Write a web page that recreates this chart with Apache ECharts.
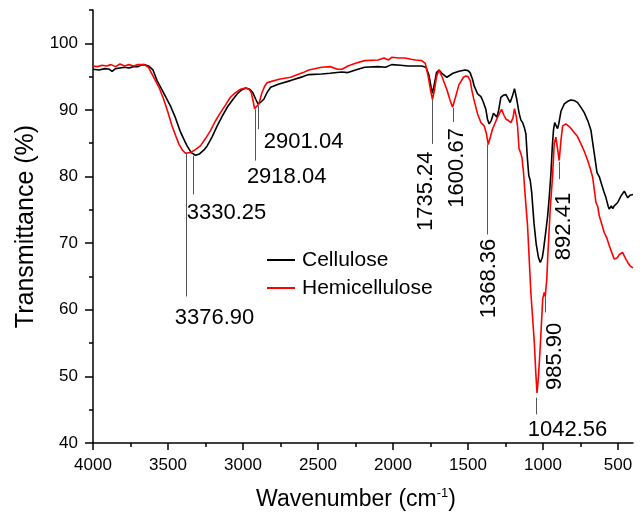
<!DOCTYPE html>
<html>
<head>
<meta charset="utf-8">
<script src="https://cdn.jsdelivr.net/npm/echarts@6/dist/echarts.min.js"></script>
<style>
html, body { margin: 0; padding: 0; background: #fff; }
#chart { width: 642px; height: 515px; }
</style>
</head>
<body>
<div id="chart"></div>
<script>
// FTIR spectra
var celluloseWn = [4000, 3960, 3920, 3890, 3873, 3850, 3820, 3790, 3760, 3730, 3700, 3680, 3660, 3630, 3600, 3573, 3530, 3484, 3450, 3417,
    3390, 3373, 3345, 3317, 3290, 3260, 3239, 3205, 3172, 3140, 3105, 3070, 3039, 3010, 2980, 2955, 2935, 2915, 2900, 2885,
    2861, 2840, 2816, 2760, 2683, 2600, 2561, 2476, 2420, 2342, 2300, 2250, 2189, 2100, 2050, 2009, 1950, 1900, 1850, 1809,
    1780, 1760, 1745, 1737, 1725, 1710, 1693, 1670, 1641, 1600, 1560, 1519, 1500, 1486, 1470, 1459, 1436, 1425, 1414, 1400,
    1381, 1370, 1359, 1345, 1330, 1318, 1307, 1295, 1281, 1265, 1247, 1235, 1219, 1205, 1190, 1175, 1160, 1148, 1136, 1125,
    1114, 1105, 1095, 1085, 1075, 1060, 1045, 1030, 1018, 1005, 996, 980, 969, 958, 947, 938, 930, 922, 912, 903,
    895, 880, 858, 835, 814, 790, 769, 745, 725, 700, 680, 665, 655, 640, 625, 613, 595, 580, 565, 558,
    545, 535, 525, 502, 480, 458, 445, 435, 420, 400];
var celluloseT = [96.1, 96.0, 96.2, 96.1, 95.8, 96.2, 96.3, 96.4, 96.3, 96.5, 96.5, 96.7, 96.8, 96.6, 96.0, 94.4, 92.6, 90.6, 88.8, 86.7,
    85.4, 84.6, 83.6, 83.2, 83.4, 84.0, 84.6, 86.0, 87.6, 89.0, 90.4, 91.5, 92.4, 93.0, 93.3, 93.1, 92.6, 91.6, 90.9, 91.1,
    91.6, 92.6, 93.4, 93.9, 94.4, 95.0, 95.3, 95.4, 95.5, 95.7, 95.6, 96.0, 96.4, 96.5, 96.4, 96.8, 96.7, 96.6, 96.6, 96.6,
    96.4, 95.2, 93.3, 92.5, 93.8, 95.6, 96.0, 95.4, 94.9, 95.5, 95.8, 96.0, 95.9, 95.6, 94.6, 93.6, 92.4, 92.6, 92.0, 91.3,
    90.1, 88.6, 87.9, 88.4, 89.5, 89.3, 88.9, 90.0, 91.9, 92.2, 92.3, 91.8, 91.1, 92.0, 93.2, 91.6, 89.6, 88.5, 88.1, 87.4,
    86.4, 83.0, 80.2, 79.4, 77.5, 73.0, 69.8, 67.8, 67.1, 67.8, 69.1, 72.0, 74.1, 77.0, 80.5, 84.5, 87.0, 88.1, 87.6, 87.2,
    87.9, 89.8, 90.9, 91.3, 91.5, 91.4, 91.1, 90.3, 89.6, 88.3, 86.9, 84.5, 83.0, 80.6, 80.0, 79.1, 77.8, 76.8, 75.5, 75.1,
    75.6, 75.2, 75.6, 76.1, 77.1, 77.8, 77.2, 76.8, 77.2, 77.3];

var hemiWn = [4000, 3970, 3940, 3910, 3880, 3850, 3820, 3790, 3760, 3730, 3700, 3660, 3630, 3595, 3560, 3529, 3500, 3473, 3450, 3428,
    3405, 3384, 3350, 3320, 3284, 3250, 3217, 3185, 3150, 3115, 3084, 3050, 3016, 2985, 2960, 2945, 2935, 2923, 2910, 2894,
    2875, 2855, 2838, 2760, 2683, 2600, 2561, 2476, 2420, 2370, 2340, 2300, 2250, 2189, 2100, 2060, 2030, 2009, 1960, 1921,
    1880, 1850, 1809, 1785, 1765, 1750, 1737, 1725, 1710, 1693, 1670, 1640, 1620, 1603, 1585, 1560, 1530, 1515, 1500, 1485,
    1475, 1459, 1436, 1414, 1392, 1378, 1365, 1350, 1337, 1320, 1303, 1276, 1260, 1247, 1230, 1214, 1200, 1190, 1178, 1169,
    1160, 1147, 1140, 1130, 1120, 1103, 1081, 1058, 1048, 1040, 1030, 1018, 1002, 992, 985, 975, 969, 952, 936, 925,
    914, 905, 892, 880, 869, 847, 820, 792, 770, 747, 725, 702, 685, 669, 647, 635, 625, 610, 592, 575,
    558, 540, 525, 505, 491, 470, 458, 445, 435, 420, 400];
var hemiT = [96.6, 96.5, 96.7, 96.6, 96.8, 96.5, 96.9, 96.6, 96.8, 96.6, 96.8, 96.8, 96.4, 94.9, 93.4, 91.6, 89.6, 87.6, 86.2, 84.9,
    84.0, 83.5, 83.6, 84.0, 84.6, 85.7, 86.9, 88.3, 89.6, 90.8, 91.9, 92.6, 93.1, 93.3, 93.1, 92.6, 91.6, 90.2, 90.3, 90.9,
    92.5, 93.6, 94.1, 94.6, 94.9, 95.6, 96.0, 96.4, 96.5, 96.1, 96.1, 96.6, 97.0, 97.4, 97.5, 97.8, 97.5, 97.9, 97.8, 97.8,
    97.6, 97.5, 97.4, 97.0, 95.0, 93.0, 91.6, 92.8, 95.0, 96.0, 94.8, 93.0, 91.5, 90.4, 91.8, 93.8, 94.9, 95.1, 95.0, 94.4,
    93.0, 91.4, 89.4, 88.1, 87.6, 86.5, 84.8, 86.0, 87.1, 88.0, 88.9, 90.1, 89.2, 88.6, 88.4, 88.1, 88.8, 90.2, 89.0, 87.4,
    84.2, 83.4, 82.8, 80.6, 77.5, 72.6, 62.6, 55.1, 50.5, 47.5, 50.0, 54.6, 61.6, 62.6, 62.0, 64.5, 67.6, 75.1, 80.1, 85.0,
    85.9, 84.5, 82.4, 85.5, 87.6, 87.9, 87.4, 86.6, 86.0, 84.9, 83.8, 82.4, 81.2, 79.9, 76.1, 75.5, 74.1, 73.0, 71.6, 70.8,
    69.6, 68.5, 67.6, 67.8, 68.3, 68.6, 68.3, 67.5, 67.1, 66.6, 66.3];

// axis ticks
var xMajorTicks = [4000, 3500, 3000, 2500, 2000, 1500, 1000, 500];
var xMinorTicks = [3750, 3250, 2750, 2250, 1750, 1250, 750];
var yMajorTicks = [40, 50, 60, 70, 80, 90, 100];
var yMinorTicks = [45, 55, 65, 75, 85, 95, 105];

// peak annotations (data units)
var peakNames  = ['3376.90', '3330.25', '2918.04', '2901.04', '1735.24', '1600.67', '1368.36', '892.41', '985.90', '1042.56'];
var peakWn     = [3376.90, 3330.25, 2918.04, 2901.04, 1735.24, 1600.67, 1368.36, 892.41, 985.90, 1042.56];
var peakTop    = [83.6, 83.1, 90.1, 90.6, 91.6, 90.3, 84.8, 82.2, 62.0, 46.8];
var peakBottom = [62.0, 77.3, 82.4, 87.1, 84.9, 88.2, 71.3, 79.6, 59.6, 44.3];
var labelWn    = [3190, 3110, 2709, 2596, 1781, 1575, 1358, 862, 918, 837];
var labelT     = [58.7, 74.6, 79.9, 85.2, 77.8, 81.3, 64.7, 72.5, 53.0, 42.0];
var labelUpright = [false, false, false, false, true, true, true, true, true, false];

var FONT = "'Liberation Sans', Arial, sans-serif";

function zip(xs, ys) {
    return xs.map(function (x, i) { return [x, ys[i]]; });
}

var labelData = peakNames.map(function (n, i) {
    return {
        name: n,
        value: [labelWn[i], labelT[i]],
        label: { rotate: labelUpright[i] ? 90 : 0 }
    };
});
var peakLines = peakWn.map(function (w, i) {
    return [{ coord: [w, peakTop[i]] }, { coord: [w, peakBottom[i]] }];
});

function xAxisBase() {
    return {
        type: 'value', inverse: true, min: 400, max: 4000, position: 'bottom',
        splitLine: { show: false }, minorTick: { show: false }
    };
}
function yAxisBase() {
    return {
        type: 'value', min: 40, max: 105, position: 'left',
        splitLine: { show: false }, minorTick: { show: false }
    };
}

var xMain = xAxisBase();
xMain.axisLine = { show: true, lineStyle: { color: '#000', width: 1.5 } };
xMain.axisTick = { show: true, inside: false, length: 7, customValues: xMajorTicks, lineStyle: { color: '#000', width: 1.5 } };
xMain.axisLabel = {
    show: true, margin: 14, customValues: xMajorTicks, color: '#000', fontSize: 17, fontFamily: FONT,
    formatter: function (v) { return String(v); }
};
xMain.name = '{a|Wavenumber (cm}{s|-1}{a|)}';
xMain.nameLocation = 'middle';
xMain.nameGap = 44;
xMain.nameTextStyle = {
    padding: [0, 14, 0, 0],
    rich: {
        a: { fontSize: 23, fontFamily: FONT, color: '#000', lineHeight: 26 },
        s: { fontSize: 13, fontFamily: FONT, color: '#000', verticalAlign: 'top', lineHeight: 13 }
    }
};

var xMinor = xAxisBase();
xMinor.axisLine = { show: false };
xMinor.axisLabel = { show: false };
xMinor.axisTick = { show: true, length: 4, customValues: xMinorTicks, lineStyle: { color: '#000', width: 1.5 } };

var yMain = yAxisBase();
yMain.axisLine = { show: true, lineStyle: { color: '#000', width: 1.5 } };
yMain.axisTick = { show: true, length: 8, customValues: yMajorTicks, lineStyle: { color: '#000', width: 1.5 } };
yMain.axisLabel = { show: true, margin: 15, customValues: yMajorTicks, color: '#000', fontSize: 17, fontFamily: FONT };
yMain.name = 'Transmittance (%)';
yMain.nameLocation = 'middle';
yMain.nameGap = 49;
yMain.nameTextStyle = { fontSize: 25, fontFamily: FONT, color: '#000' };

var yMinor = yAxisBase();
yMinor.axisLine = { show: false };
yMinor.axisLabel = { show: false };
yMinor.axisTick = { show: true, length: 4, customValues: yMinorTicks, lineStyle: { color: '#000', width: 1.5 } };

var option = {
    animation: false,
    backgroundColor: '#fff',
    grid: { left: 93, right: 9, top: 10, bottom: 72, containLabel: false, outerBoundsMode: 'none' },
    legend: {
        data: ['Cellulose', 'Hemicellulose'],
        orient: 'vertical',
        left: 262,
        top: 243,
        icon: 'rect',
        itemWidth: 28,
        itemHeight: 2,
        itemGap: 4,
        textStyle: { fontSize: 21, fontFamily: FONT, color: '#000', lineHeight: 24, padding: [0, 0, 0, 2] }
    },
    xAxis: [xMain, xMinor],
    yAxis: [yMain, yMinor],
    series: [
        {
            name: 'Cellulose', type: 'line', showSymbol: false, symbol: 'none',
            color: '#000', lineStyle: { color: '#000', width: 1.6 },
            data: zip(celluloseWn, celluloseT)
        },
        {
            name: 'Hemicellulose', type: 'line', showSymbol: false, symbol: 'none',
            color: '#ff0000', lineStyle: { color: '#ff0000', width: 1.6 },
            data: zip(hemiWn, hemiT)
        },
        {
            name: 'peaks', type: 'scatter', symbol: 'circle', symbolSize: 1, silent: true,
            itemStyle: { color: '#000', opacity: 0 },
            label: {
                show: true, position: 'inside', fontSize: 22, fontFamily: FONT, color: '#000', opacity: 1,
                formatter: function (p) { return p.name; }
            },
            data: labelData,
            markLine: {
                silent: true, symbol: ['none', 'none'],
                label: { show: false },
                lineStyle: { color: '#555', width: 1, type: 'solid' },
                data: peakLines
            }
        }
    ]
};

var chart = echarts.init(document.getElementById('chart'));
chart.setOption(option);
</script>
</body>
</html>
